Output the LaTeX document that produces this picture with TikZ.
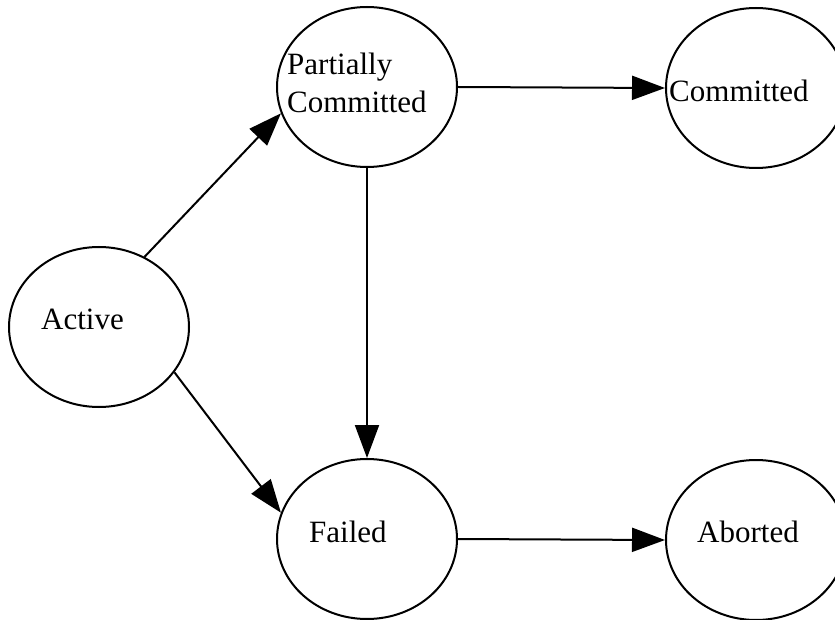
\documentclass[tikz,border=0pt]{standalone}
\usepackage{fontspec}
\setmainfont{Liberation Serif}
\usetikzlibrary{arrows.meta,shapes.geometric}
\begin{document}
\begin{tikzpicture}[x=1pt,y=-1pt,
  state/.style={draw, line width=2pt, ellipse, minimum width=180pt, minimum height=160pt, inner sep=0pt},
  lbl/.style={anchor=base west, inner sep=0pt, font=\fontsize{31}{38}\selectfont},
  edge/.style={line width=2pt, -{Triangle[length=33pt,width=24pt]}}]
\useasboundingbox (0,0) rectangle (835,620);
\clip (0,0) rectangle (835,620);
\node[state] (act) at (99,327) {};
\node[state] (pc) at (367,87) {};
\node[state] (com) at (756,88) {};
\node[state] (fail) at (367,539) {};
\node[state] (abt) at (756,540) {};
\node[lbl] (actT) at (41,329) {Active};
\node[lbl] (pcT1) at (287,75) {Partially};
\node[lbl] (pcT2) at (287,113) {Committed};
\node[lbl] (comT) at (669,102) {Committed};
\node[lbl] (failT) at (309,542) {Failed};
\node[lbl] (abtT) at (697,542) {Aborted};
\draw[edge] (act.57) -- (pc.197);
\draw[edge] (act.-31.5) -- (fail.163);
\draw[edge] (pc.east) -- (com.west);
\draw[edge] (pc.south) -- (fail.north);
\draw[edge] (fail.east) -- (abt.west);
\end{tikzpicture}
\end{document}
